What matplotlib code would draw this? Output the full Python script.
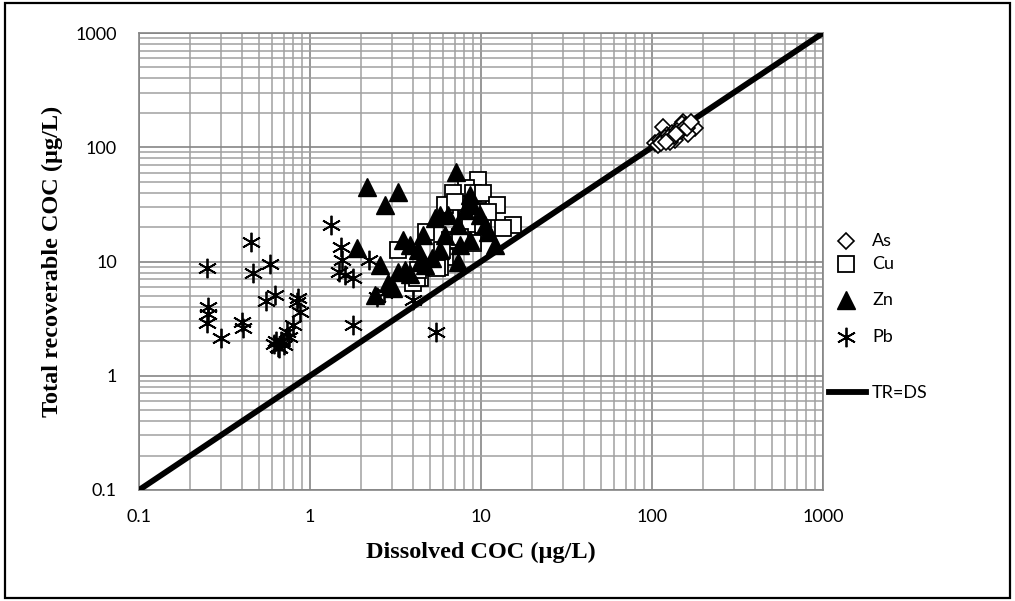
import matplotlib
matplotlib.use("Agg")
import matplotlib.pyplot as plt
import numpy as np
from matplotlib.lines import Line2D
from matplotlib.patches import Rectangle

# ---- data ----
as_ds = [104, 111, 116, 123, 131, 136, 146, 152, 158, 167, 179, 108, 119, 142, 162, 128, 150,
         113, 125, 134, 140, 148, 155, 160, 170, 121, 138]
as_tr = [110, 116, 150, 128, 134, 116, 148, 168, 158, 142, 148, 105, 120, 136, 130, 112, 160,
         108, 122, 126, 140, 138, 150, 146, 165, 112, 130]

cu_ds = [9.6, 8.2, 9.6, 6.9, 9.0, 10.3, 12.4, 15.4, 13.4, 8.3, 8.6, 10.3, 6.6, 8.3, 9.0, 6.2,
         5.75, 7.5, 6.6, 3.27, 4.8, 4.4, 5.25, 4.0, 6.2, 5.9, 4.2, 4.3, 5.5, 7.0, 11.0]
cu_tr = [52, 44, 38.5, 40, 40, 40, 31, 21, 19.7, 28, 20, 21, 15.5, 15.5, 14.6, 11,
         9.0, 16.5, 25.6, 12.7, 18.2, 7.2, 9.0, 6.5, 31, 12.7, 7.2, 8.5, 8.8, 33, 27]

zn_ds = [2.15, 3.27, 2.75, 7.14, 1.88, 2.57, 2.86, 2.4, 3.06, 3.5, 3.85, 4.3, 4.6, 3.6, 4.4,
         5.2, 5.4, 5.75, 6.4, 6.2, 5.75, 7.3, 8.1, 8.6, 8.9, 7.5, 7.3, 9.9, 11.0, 12.1, 8.6,
         10.5, 3.85, 3.27, 4.7]
zn_tr = [45, 40.8, 31.4, 61, 13.2, 9.4, 6.5, 5.1, 5.9, 15.5, 14, 12.7, 17.2, 8.5, 9.9,
         10.8, 24, 25.6, 25.6, 17.2, 12.7, 21, 28.3, 38.5, 31.4, 14, 9.9, 25.6, 18.2, 14, 15.5,
         21, 7.7, 8.1, 9.4]

pb_ds = [0.452, 0.25, 0.464, 0.584, 0.253, 0.25, 0.253, 0.30, 0.40, 0.406, 0.553, 0.624,
         0.85, 0.874, 0.84, 0.795, 0.734, 0.62, 0.65, 0.68, 0.70, 0.63, 0.75, 0.66,
         1.33, 1.52, 1.54, 1.48, 1.6, 1.78, 2.21, 2.46, 1.78, 4.0, 5.45, 2.7]
pb_tr = [14.9, 8.8, 7.97, 9.56, 4.0, 2.91, 3.5, 2.15, 2.97, 2.63, 4.53, 5.1,
         4.8, 3.63, 4.4, 2.8, 2.43, 1.9, 1.8, 2.0, 1.85, 2.0, 2.2, 1.75,
         20.9, 13.5, 10.4, 8.1, 7.6, 7.2, 10.4, 4.9, 2.8, 4.6, 2.4, 5.3]

line_x = [0.1, 1000]
line_y = [0.1, 1000]

x_ticks = [0.1, 1, 10, 100, 1000]
x_ticklabels = ["0.1", "1", "10", "100", "1000"]

# ---- styles ----
st_as = dict(marker="D", ms=8, mfc="white", mec="black", mew=1.2)
st_cu = dict(marker="s", ms=11.5, mfc="white", mec="black", mew=1.3)
st_zn = dict(marker="^", ms=12.5, mfc="black", mec="black")
st_pb = dict(marker=(6, 2, 0), ms=14, mec="black", mew=1.3)

# ---- figure ----
fig = plt.figure(figsize=(10.15, 6.01), dpi=100)
ax = fig.add_axes([139/1015, 111/601, 684/1015, 457/601])
ax.set_xscale("log")
ax.set_yscale("log")
ax.set_xlim(0.1, 1000)
ax.set_ylim(0.1, 1000)

ax.grid(True, which="major", color="#858585", lw=1.2)
ax.grid(True, which="minor", color="#a0a0a0", lw=1.1)
ax.set_axisbelow(True)
for s in ax.spines.values():
    s.set_color("#858585")
    s.set_linewidth(1.2)
ax.tick_params(which="both", length=0)
ax.set_xticks(x_ticks)
ax.set_xticklabels(x_ticklabels)
ax.set_yticks(x_ticks)
ax.set_yticklabels(x_ticklabels)
for lab in ax.get_xticklabels() + ax.get_yticklabels():
    lab.set_fontfamily("Lato")
    lab.set_fontsize(13)
ax.tick_params(axis="x", pad=14)
ax.tick_params(axis="y", pad=16)

ax.plot(line_x, line_y, color="black", lw=4.2, solid_capstyle="butt", zorder=3)
ax.plot(as_ds, as_tr, ls="none", zorder=4, **st_as)
ax.plot(cu_ds, cu_tr, ls="none", zorder=4, **st_cu)
ax.plot(zn_ds, zn_tr, ls="none", zorder=5, **st_zn)
ax.plot(pb_ds, pb_tr, ls="none", zorder=5, **st_pb)

ax.set_xlabel("Dissolved COC (µg/L)", family="Liberation Serif", weight="bold", size=17.5, labelpad=12)
ax.set_ylabel("Total recoverable COC (µg/L)", family="Liberation Serif", weight="bold", size=17.5, labelpad=9)

# legend (manual placement)
W, H = 1015, 601
leg_items = [("As", st_as, 241), ("Cu", st_cu, 264), ("Zn", st_zn, 300), ("Pb", st_pb, 337)]
for label, style, ypix in leg_items:
    fig.add_artist(Line2D([846/W], [1 - ypix/H], ls="none", transform=fig.transFigure, **style))
    fig.text(872/W, 1 - ypix/H, label, family="Lato", size=13, va="center", ha="left")
fig.add_artist(Line2D([829/W, 866/W], [1 - 392/H, 1 - 392/H], color="black", lw=4.2,
                      transform=fig.transFigure))
fig.text(872/W, 1 - 393/H, "TR=DS", family="Lato", size=13, va="center", ha="left")

fig.add_artist(Rectangle((5/W, 3/H), 1005/W, 595/H, fill=False, ec="black", lw=1.6,
                         transform=fig.transFigure))

fig.savefig("out.png", dpi=100)
